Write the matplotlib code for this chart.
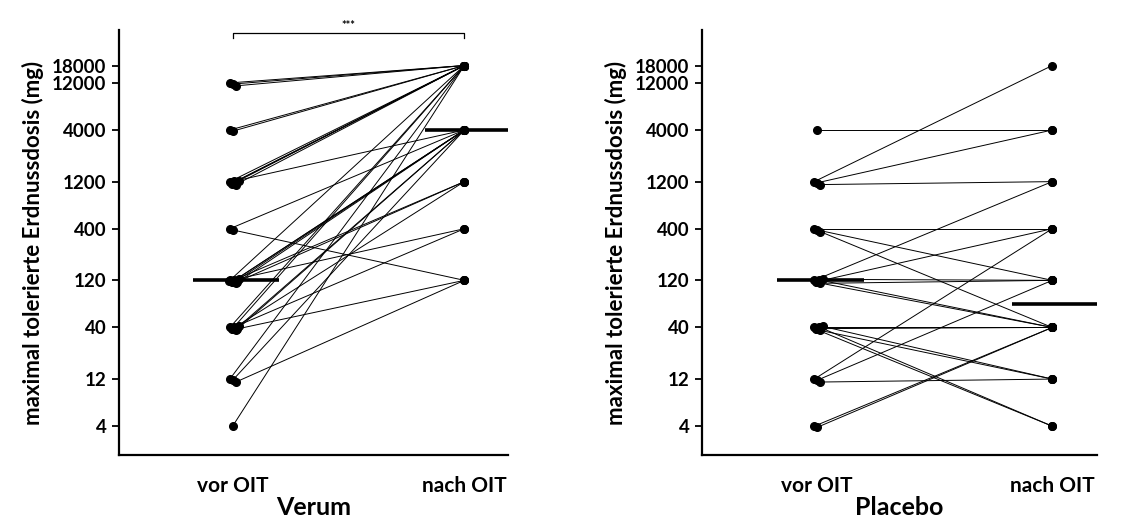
import numpy as np
import matplotlib
matplotlib.use('Agg')
import matplotlib.pyplot as plt
from matplotlib.ticker import FixedLocator, FixedFormatter, NullLocator

plt.rcParams['font.family'] = ['Lato', 'DejaVu Sans']
plt.rcParams['font.weight'] = 'bold'

# Dosis-Stufen auf der y-Achse
doseTicks = [4, 12, 40, 120, 400, 1200, 4000, 12000, 18000]
doseLabels = ['4', '12', '40', '120', '400', '1200', '4000', '12000', '18000']
groupLabels = ['vor OIT', 'nach OIT']

# Verum: tolerierte Dosis vor und nach OIT (paarweise)
verumVor = [12000, 12000, 12000,
            4000, 4000,
            1200, 1200, 1200, 1200, 1200, 1200,
            400, 400,
            120, 120, 120, 120, 120, 120, 120, 120,
            40, 40, 40, 40, 40, 40, 40,
            12, 12, 12,
            4]
verumNach = [18000, 18000, 18000,
             18000, 18000,
             18000, 18000, 18000, 18000, 18000, 4000,
             4000, 120,
             18000, 4000, 4000, 4000, 4000, 1200, 1200, 400,
             18000, 18000, 4000, 4000, 1200, 400, 120,
             18000, 4000, 120,
             18000]

# Placebo
placeboVor = [4000,
              1200, 1200, 1200,
              400, 400, 400,
              120, 120, 120, 120, 120, 120,
              40, 40, 40, 40, 40, 40,
              12, 12, 12,
              4, 4]
placeboNach = [4000,
               18000, 4000, 1200,
               400, 120, 40,
               1200, 400, 120, 120, 40, 40,
               40, 40, 12, 12, 4, 4,
               400, 120, 12,
               40, 40]

# Versatzmuster fuer uebereinanderliegende Punkte
dxPattern = [-0.012, 0.0, 0.014, 0.026, -0.004, 0.008, 0.02, -0.016]
dyPattern = [0.0, 0.012, 0.03, -0.01, 0.02, -0.005, 0.015, 0.005]


def jitter(vals):
    vals = np.asarray(vals, float)
    dx = np.zeros(len(vals))
    fy = np.ones(len(vals))
    for v in np.unique(vals):
        idx = np.where(vals == v)[0]
        if len(idx) == 1:
            continue
        for k, i in enumerate(idx):
            dx[i] = dxPattern[k % len(dxPattern)]
            fy[i] = 10 ** (-dyPattern[k % len(dyPattern)])
    return dx, fy


def logMedian(vals):
    return 10 ** np.median(np.log10(vals))


def drawPanel(ax, vor, nach, title):
    vor = np.asarray(vor, float)
    nach = np.asarray(nach, float)
    dx0, fy0 = jitter(vor)
    x0 = 0 + dx0
    y0 = vor * fy0
    x1 = np.ones(len(nach))
    y1 = nach
    for i in range(len(vor)):
        ax.plot([x0[i], x1[i]], [y0[i], y1[i]], color='black', lw=0.7, zorder=2)
    ax.plot(x0, y0, 'o', color='black', ms=5.5, zorder=3)
    ax.plot(x1, y1, 'o', color='black', ms=5.5, zorder=3)
    # Mediane
    for xc, vals in [(0, vor), (1, nach)]:
        m = logMedian(vals)
        ax.plot([xc - 0.17, xc + 0.2], [m, m], color='black', lw=2.6, zorder=4,
                solid_capstyle='butt')

    ax.set_yscale('log')
    ax.set_ylim(2.05, 41000)
    ax.set_xlim(-0.49, 1.19)
    ax.yaxis.set_major_locator(FixedLocator(doseTicks))
    ax.yaxis.set_major_formatter(FixedFormatter(doseLabels))
    ax.yaxis.set_minor_locator(NullLocator())
    ax.set_xticks([0, 1])
    ax.set_xticklabels(groupLabels, fontsize=15, fontweight='bold')
    ax.tick_params(axis='x', length=0, pad=15)
    ax.tick_params(axis='y', length=5, width=1.3, labelsize=13.5, direction='out', pad=4)
    for lab in ax.get_yticklabels():
        lab.set_fontweight('bold')
    ax.spines['top'].set_visible(False)
    ax.spines['right'].set_visible(False)
    ax.spines['left'].set_linewidth(1.6)
    ax.spines['bottom'].set_linewidth(1.6)
    ax.set_ylabel('maximal tolerierte Erdnussdosis (mg)', fontsize=16, fontweight='bold', labelpad=6)
    ax.set_xlabel(title, fontsize=18, fontweight='bold', labelpad=0)


fig = plt.figure(figsize=(11.45, 5.21), dpi=100)
ax1 = fig.add_axes([0.104, 0.127, 0.340, 0.815])
ax2 = fig.add_axes([0.613, 0.127, 0.345, 0.815])

drawPanel(ax1, verumVor, verumNach, 'Verum')
drawPanel(ax2, placeboVor, placeboNach, 'Placebo')

# Signifikanzklammer Verum
yb = 38000
ax1.plot([0, 0, 1, 1], [yb * 0.9, yb, yb, yb * 0.9], color='black', lw=0.9, clip_on=False)
ax1.text(0.5, yb * 1.05, '***', ha='center', va='bottom', fontsize=8)

fig.savefig('out.png', dpi=100)
